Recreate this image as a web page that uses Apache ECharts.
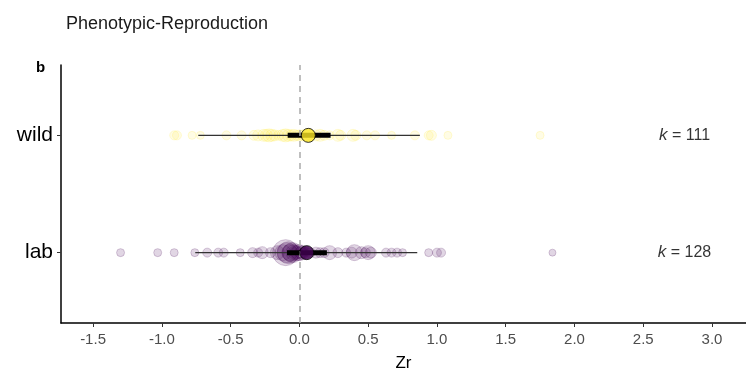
<!DOCTYPE html>
<html>
<head>
<meta charset="utf-8">
<script src="https://cdn.jsdelivr.net/npm/echarts@6/dist/echarts.min.js"></script>
<style>
  html, body { margin: 0; padding: 0; background: #fff; }
  #chart { width: 746px; height: 377px; }
</style>
</head>
<body>
<div id="chart"></div>
<script>
// categories (y positions 1 = lab, 2 = wild)
const categories = ['lab', 'wild'];
const kCounts = [128, 111];

// individual effect sizes (Zr) and their plotted sizes (precision)
const wildZr = [-0.91, -0.89, -0.78, -0.72, -0.53, -0.42, -0.33, -0.30, -0.26, -0.24, -0.22, -0.20, -0.18, -0.15,
  -0.12, -0.10, -0.08, -0.06, -0.04, -0.02, 0.00, 0.02, 0.04, 0.08, 0.12, 0.15, 0.18, 0.22, 0.28, 0.30,
  0.39, 0.41, 0.49, 0.55, 0.67, 0.84, 0.94, 0.96, 1.08, 1.75];
const wildSize = [9, 9, 8, 8, 9, 9, 10, 11, 12, 12, 13, 12, 11, 10,
  12, 13, 12, 11, 12, 10, 11, 10, 12, 10, 11, 12, 10, 9, 12, 10,
  12, 10, 9, 9, 8, 9, 9, 10, 8, 8];

const labZr = [-1.30, -1.03, -0.91, -0.76, -0.67, -0.59, -0.55, -0.43, -0.34, -0.30, -0.27, -0.21, -0.16, -0.12,
  -0.10, -0.09, -0.08, -0.07, -0.06, -0.05, -0.04, -0.03, -0.02, -0.01, 0.00, 0.01, 0.02, 0.03, 0.04, 0.05,
  0.08, 0.12, 0.15, 0.18, 0.22, 0.28,
  0.34, 0.38, 0.40, 0.45, 0.48, 0.50, 0.52, 0.63, 0.67, 0.71, 0.75, 0.94, 1.00, 1.03, 1.84];
const labSize = [8, 8, 8, 8, 9, 9, 9, 8, 10, 9, 12, 10, 14, 16,
  26, 20, 22, 16, 18, 20, 16, 14, 12, 16, 16, 12, 14, 10, 12, 12,
  10, 11, 10, 10, 14, 10,
  9, 11, 16, 12, 10, 14, 11, 9, 9, 9, 8, 8, 9, 9, 7];

// overall estimates: mean, confidence interval, prediction interval
const meanZr = [0.053, 0.065];
const ciLow = [-0.09, -0.085];
const ciHigh = [0.20, 0.227];
const piLow = [-0.757, -0.735];
const piHigh = [0.857, 0.876];

const xTicks = [-1.5, -1.0, -0.5, 0.0, 0.5, 1.0, 1.5, 2.0, 2.5, 3.0];

const colors = ['#440154', '#FDE725'];
const fills = ['rgba(68,1,84,0.2)', 'rgba(253,231,37,0.15)'];

const chart = echarts.init(document.getElementById('chart'));

const pointSeries = [labZr, wildZr].map((zr, i) => {
  const sizes = i === 0 ? labSize : wildSize;
  return {
    type: 'scatter',
    data: zr.map((v, j) => [v, i + 1, sizes[j]]),
    symbolSize: (d) => d[2],
    itemStyle: {
      color: fills[i],
      borderColor: i === 0 ? 'rgba(68,1,84,0.25)' : 'rgba(253,231,37,0.22)',
      borderWidth: 1,
    },
    silent: true,
    z: 2,
  };
});

const piSeries = categories.map((c, i) => ({
  type: 'line',
  data: [[piLow[i], i + 1], [piHigh[i], i + 1]],
  symbol: 'none',
  lineStyle: { color: '#333', width: 1.2 },
  silent: true,
  z: 3,
}));

const ciSeries = categories.map((c, i) => ({
  type: 'line',
  data: [[ciLow[i], i + 1], [ciHigh[i], i + 1]],
  symbol: 'none',
  lineStyle: { color: '#000', width: 5, cap: 'butt' },
  silent: true,
  z: 4,
}));

const option = {
  animation: false,
  title: {
    text: 'Phenotypic-Reproduction',
    left: 61,
    top: 10,
    textStyle: { fontFamily: 'Liberation Sans', fontSize: 18, fontWeight: 'normal', color: '#1a1a1a' },
  },
  graphic: [{
    type: 'text',
    left: 36,
    top: 60,
    style: { text: 'b', font: 'bold 15px "Liberation Sans"', fill: '#000' },
  }],
  grid: { left: 61, right: 0, top: 65, bottom: 53 },
  xAxis: {
    type: 'value',
    min: -1.733,
    max: 3.247,
    name: 'Zr',
    nameLocation: 'middle',
    nameGap: 32,
    nameTextStyle: { fontFamily: 'Liberation Sans', fontSize: 17, color: '#000' },
    axisLine: { onZero: false, lineStyle: { color: '#000', width: 1.5 } },
    axisTick: { show: true, length: 4, customValues: xTicks, lineStyle: { color: '#333' } },
    axisLabel: {
      customValues: xTicks,
      formatter: (v) => v.toFixed(1),
      fontFamily: 'Liberation Sans',
      fontSize: 15,
      color: '#4d4d4d',
      margin: 9,
    },
    splitLine: { show: false },
  },
  yAxis: {
    type: 'value',
    min: 0.4,
    max: 2.6,
    axisLine: { show: true, onZero: false, lineStyle: { color: '#000', width: 1.5 } },
    axisTick: { show: true, length: 4, customValues: [1, 2], lineStyle: { color: '#333' } },
    axisLabel: {
      customValues: [1, 2],
      formatter: (v) => categories[Math.round(v) - 1] || '',
      fontFamily: 'Liberation Sans',
      fontSize: 21,
      color: '#000',
      margin: 8,
    },
    splitLine: { show: false },
  },
  series: [
    {
      type: 'line',
      data: [],
      markLine: {
        silent: true,
        symbol: 'none',
        label: { show: false },
        lineStyle: { type: [6, 5], color: '#aaaaaa', width: 1.5 },
        data: [{ xAxis: 0 }],
      },
      z: 1,
    },
    ...pointSeries,
    ...piSeries,
    ...ciSeries,
    {
      type: 'scatter',
      data: meanZr.map((v, i) => ({ value: [v, i + 1], itemStyle: { color: colors[i] } })),
      symbolSize: 14,
      itemStyle: { borderColor: '#000', borderWidth: 1 },
      silent: true,
      z: 5,
    },
    {
      type: 'scatter',
      data: kCounts.map((k, i) => [2.8, i + 1, k]),
      symbolSize: 0,
      silent: true,
      label: {
        show: true,
        position: 'inside',
        formatter: (p) => '{i|k} = ' + p.value[2],
        fontFamily: 'Liberation Sans',
        fontSize: 16,
        color: '#000',
        rich: { i: { fontStyle: 'italic', fontFamily: 'Liberation Sans', fontSize: 17, color: '#000' } },
      },
      z: 6,
    },
  ],
};

chart.setOption(option);
</script>
</body>
</html>
